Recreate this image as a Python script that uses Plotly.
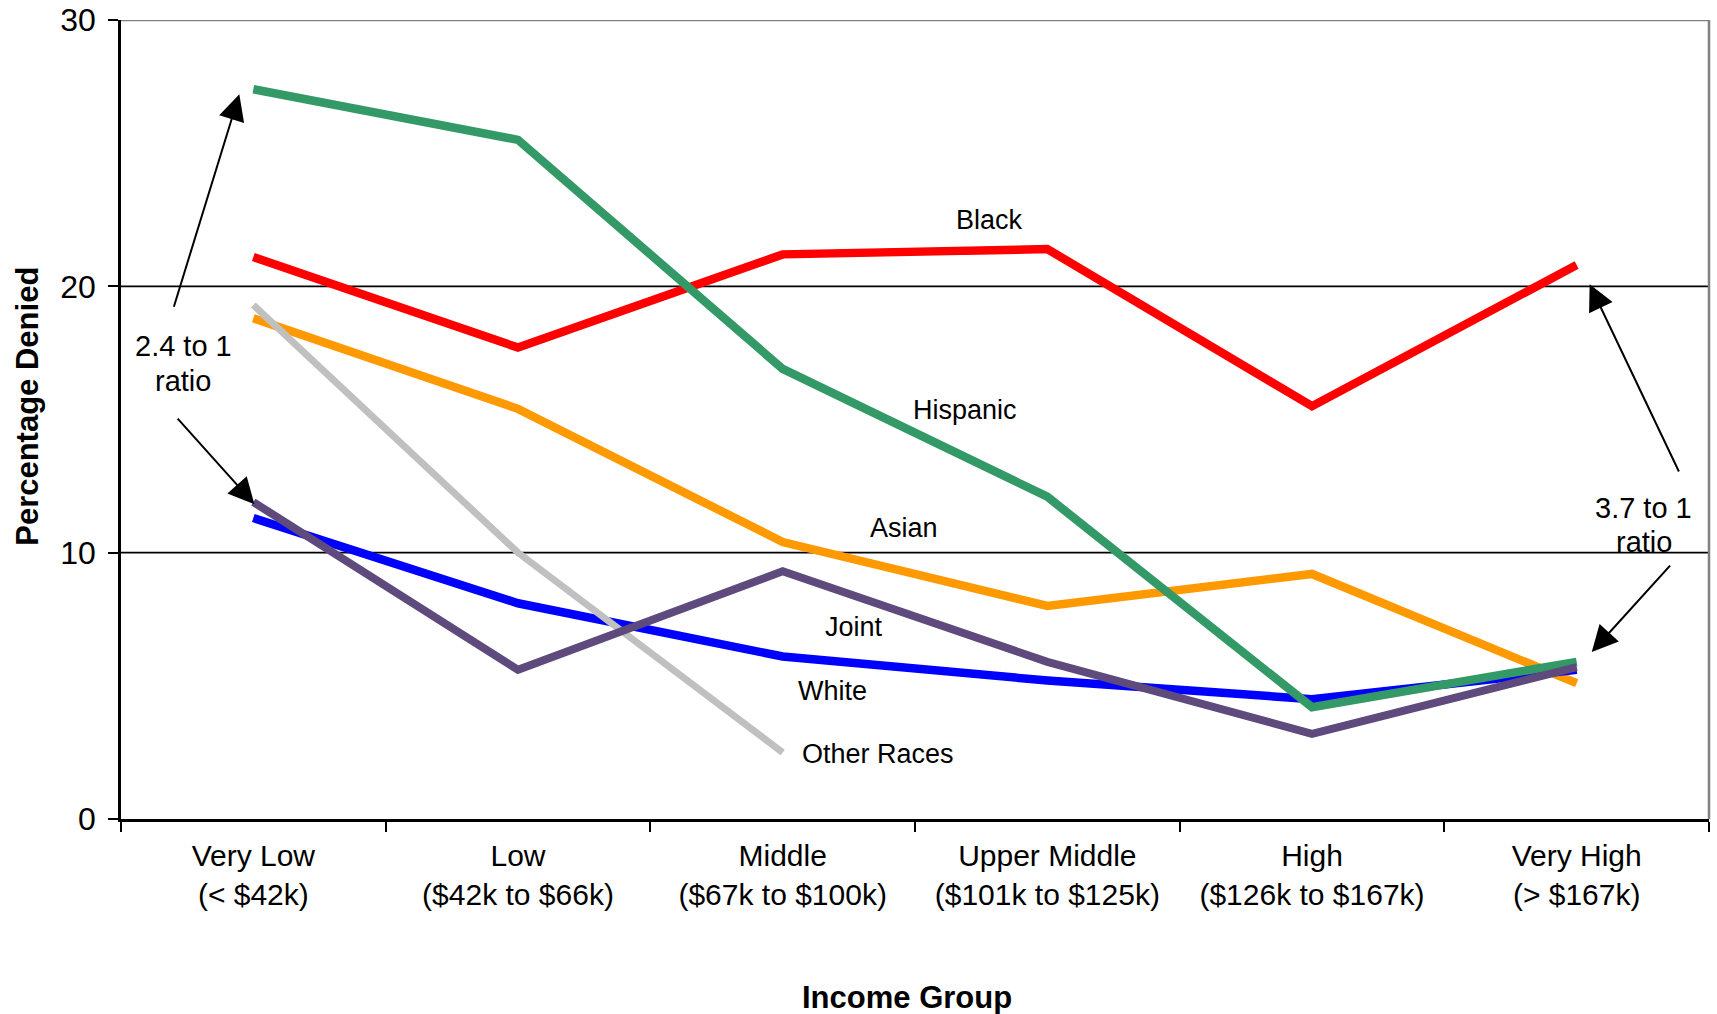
import plotly.graph_objects as go

# Income groups (x axis) and their dollar ranges
income_groups = ["Very Low", "Low", "Middle", "Upper Middle", "High", "Very High"]
income_ranges = ["(< $42k)", "($42k to $66k)", "($67k to $100k)",
                 "($101k to $125k)", "($126k to $167k)", "(> $167k)"]

# Percentage of applications denied, by applicant group
asian = [18.8, 15.4, 10.4, 8.0, 9.2, 5.1]
black = [21.1, 17.7, 21.2, 21.4, 15.5, 20.8]
white = [11.3, 8.1, 6.1, 5.2, 4.5, 5.6]
hispanic = [27.4, 25.5, 16.9, 12.1, 4.2, 5.9]
other_races = [19.3, 10.0, 2.5]
joint = [11.9, 5.6, 9.3, 5.9, 3.2, 5.7]

FONT = "Liberation Sans, Arial, sans-serif"


def esc(s):
    return s.replace("<", "&lt;").replace(">", "&gt;")


tick_text = [f"{g}<br>{esc(r)}" for g, r in zip(income_groups, income_ranges)]

# drawing order: later traces sit on top
series = [
    ("Asian", asian, "#FF9900", 8.5),
    ("Black", black, "#FF0000", 8.5),
    ("White", white, "#0000FF", 8.5),
    ("Hispanic", hispanic, "#339966", 8.5),
    ("Other Races", other_races, "#C0C0C0", 7),
    ("Joint", joint, "#5E4A7C", 8),
]

fig = go.Figure()
for name, vals, color, w in series:
    fig.add_trace(go.Scatter(
        x=income_groups[:len(vals)], y=vals, name=name, mode="lines",
        line=dict(color=color, width=w), showlegend=False, hoverinfo="x+y+name",
    ))

# series labels placed next to the lines
series_labels = [
    ("Black", 2.78, 22.5),
    ("Hispanic", 2.69, 15.35),
    ("Asian", 2.46, 10.92),
    ("Joint", 2.27, 7.21),
    ("White", 2.19, 4.80),
    ("Other Races", 2.36, 2.44),
]
annotations = []
for text, x, y in series_labels:
    annotations.append(dict(x=x, y=y, xref="x", yref="y", text=text, showarrow=False,
                            xanchor="center", yanchor="middle",
                            font=dict(family=FONT, size=27, color="black")))

# ratio callouts (two lines each, set a little tighter than default line spacing)
callout_lines = [
    ("2.4 to 1", -0.264, 17.76),
    ("ratio", -0.264, 16.44),
    ("3.7 to 1", 5.253, 11.67),
    ("ratio", 5.253, 10.40),
]
for text, x, y in callout_lines:
    annotations.append(dict(x=x, y=y, xref="x", yref="y", text=text, showarrow=False,
                            xanchor="center", yanchor="middle",
                            font=dict(family=FONT, size=29, color="black")))

arrows = [
    (-0.053, 27.21, -0.302, 19.18),
    (0.004, 11.82, -0.291, 15.09),
    (5.049, 20.08, 5.389, 12.99),
    (5.057, 6.27, 5.358, 9.57),
]
for hx, hy, tx, ty in arrows:
    annotations.append(dict(x=hx, y=hy, ax=tx, ay=ty, xref="x", yref="y", axref="x", ayref="y",
                            text="", showarrow=True, arrowhead=2, arrowsize=2.6,
                            arrowwidth=2, arrowcolor="black"))

# axis titles
annotations += [
    dict(x=0.4948, y=-0.2233, xref="paper", yref="paper", text="<b>Income Group</b>",
         xanchor="center", yanchor="middle",
         showarrow=False, font=dict(family=FONT, size=31, color="black")),
    dict(x=-0.0588, y=0.5167, xref="paper", yref="paper", text="<b>Percentage Denied</b>",
         xanchor="center", yanchor="middle",
         textangle=-90, showarrow=False, font=dict(family=FONT, size=31, color="black")),
]

shapes = []
for gy in (10, 20):
    shapes.append(dict(type="line", xref="paper", yref="y", x0=0, x1=1, y0=gy, y1=gy,
                       line=dict(color="black", width=1.6), layer="below"))
# plot-area frame (top and right edges)
shapes += [
    dict(type="line", xref="paper", yref="y", x0=0, x1=1, y0=30, y1=30,
         line=dict(color="#808080", width=2.5), layer="below"),
    dict(type="line", xref="paper", yref="y", x0=1, x1=1, y0=0, y1=30,
         line=dict(color="#808080", width=2.5), layer="below"),
]

fig.update_layout(
    width=1717, height=1014,
    margin=dict(l=121, r=8, t=20, b=195),
    paper_bgcolor="white", plot_bgcolor="white",
    font=dict(family=FONT, size=29, color="black"),
    annotations=annotations, shapes=shapes,
    xaxis=dict(
        type="category", categoryorder="array", categoryarray=income_groups,
        tickvals=income_groups, ticktext=tick_text, tickson="boundaries",
        ticks="outside", ticklen=10, tickwidth=2, tickcolor="black",
        showline=True, linecolor="black", linewidth=2.5, showgrid=False,
        range=[-0.5, 5.5], tickfont=dict(family=FONT, size=30, color="black"),
        ticklabelstandoff=8, automargin=False, fixedrange=True,
    ),
    yaxis=dict(
        range=[0, 30], tickvals=[0, 10, 20, 30], ticks="outside", ticklen=10,
        tickwidth=2, tickcolor="black", showline=True, linecolor="black", linewidth=2.5,
        showgrid=False, zeroline=False, tickfont=dict(family=FONT, size=32, color="black"),
        ticklabelstandoff=6, automargin=False, fixedrange=True,
    ),
)

fig.write_html("out.html")
